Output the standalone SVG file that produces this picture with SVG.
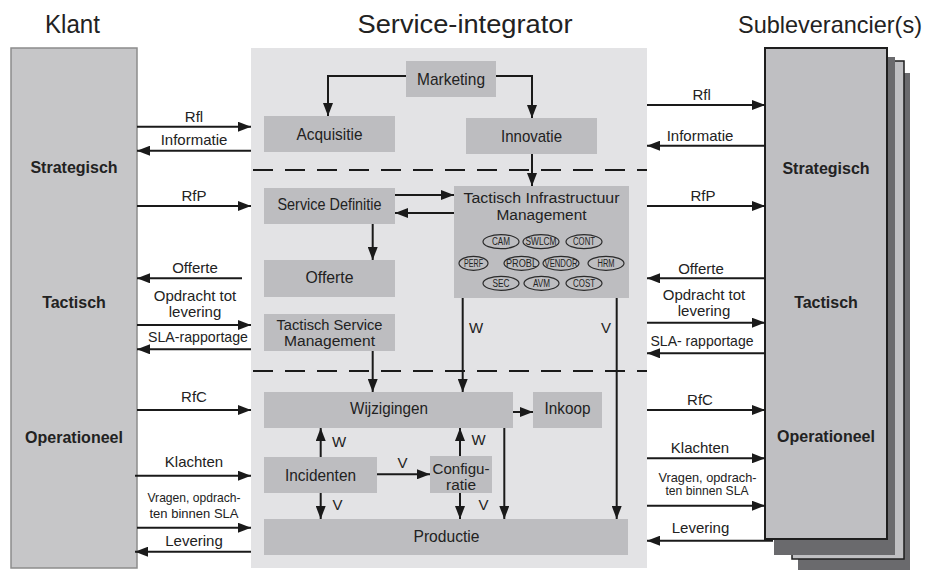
<svg xmlns="http://www.w3.org/2000/svg" width="932" height="570" viewBox="0 0 932 570">
  <defs>
    <marker id="ah" viewBox="0 0 13 10" refX="13" refY="5" markerWidth="13" markerHeight="10" markerUnits="userSpaceOnUse" orient="auto">
      <path d="M0,0 L13,5 L0,10 z" fill="#1a1a1a"/>
    </marker>
    <style>
      text { font-family: "Liberation Sans", Arial, sans-serif; fill: #222; text-anchor: middle; }
      .title { font-size: 25px; }
      .lvl { font-size: 16px; font-weight: bold; }
      .box { fill: #bdbdc0; }
      .bl { font-size: 17px; }
      .b2 { font-size: 15.5px; }
      .al { font-size: 15px; }
      .sm { font-size: 13px; }
      .el { fill: none; stroke: #2a2a2a; stroke-width: 1.2; }
      .et { font-size: 10px; }
      .c { fill: none; stroke: #1a1a1a; stroke-width: 2; marker-end: url(#ah); }
      .dash { fill: none; stroke: #1a1a1a; stroke-width: 2; stroke-dasharray: 20 12; }
    </style>
  </defs>

  <!-- column titles -->
  <text class="title" x="72.5" y="33" textLength="55" lengthAdjust="spacingAndGlyphs">Klant</text>
  <text class="title" x="465" y="33" textLength="215" lengthAdjust="spacingAndGlyphs">Service-integrator</text>
  <text class="title" x="830" y="33" style="font-size:24px" textLength="184" lengthAdjust="spacingAndGlyphs">Subleverancier(s)</text>

  <!-- client column -->
  <g id="klant">
    <rect x="11" y="48" width="126" height="520" fill="#c6c6c8" stroke="#8c8c8c" stroke-width="1.5"/>
    <text class="lvl" x="74" y="173">Strategisch</text>
    <text class="lvl" x="74" y="308">Tactisch</text>
    <text class="lvl" x="74" y="443">Operationeel</text>
  </g>

  <!-- integrator panel -->
  <g id="integrator">
    <rect x="251" y="48" width="396" height="520" fill="#e3e3e5"/>
    <path class="dash" d="M253,170 H647"/>
    <path class="dash" d="M253,371 H647"/>
  </g>

  <!-- stacked subcontractor sheets -->
  <g id="subleverancier">
    <rect x="798" y="73" width="112" height="500" fill="#6a6a6d"/>
    <rect x="792" y="61" width="112" height="498" fill="#bfbfc2" stroke="#1e1e1e" stroke-width="1.5"/>
    <rect x="774" y="57" width="121" height="498" fill="#6a6a6d"/>
    <rect x="765" y="48" width="122" height="491" fill="#bfbfc2" stroke="#1e1e1e" stroke-width="2"/>
    <text class="lvl" x="826" y="174">Strategisch</text>
    <text class="lvl" x="826" y="308">Tactisch</text>
    <text class="lvl" x="826" y="442">Operationeel</text>
  </g>

  <g id="marketing"><rect class="box" x="406" y="61" width="90" height="36"/><text class="bl" x="451" y="85" textLength="68" lengthAdjust="spacingAndGlyphs">Marketing</text></g>
  <g id="acquisitie"><rect class="box" x="264" y="116" width="131" height="36"/><text class="bl" x="329.5" y="140" textLength="66" lengthAdjust="spacingAndGlyphs">Acquisitie</text></g>
  <g id="innovatie"><rect class="box" x="466" y="118" width="131" height="36"/><text class="bl" x="531.5" y="142" textLength="61" lengthAdjust="spacingAndGlyphs">Innovatie</text></g>
  <g id="service-definitie"><rect class="box" x="264" y="188" width="131" height="36"/><text class="bl" x="329.5" y="210" textLength="104" lengthAdjust="spacingAndGlyphs">Service Definitie</text></g>
  <g id="offerte"><rect class="box" x="264" y="260" width="131" height="37"/><text class="bl" x="329.5" y="283" textLength="48" lengthAdjust="spacingAndGlyphs">Offerte</text></g>
  <g id="tactisch-service-management"><rect class="box" x="264" y="314" width="131" height="37"/><text class="b2" x="329.5" y="329.5" textLength="106" lengthAdjust="spacingAndGlyphs">Tactisch Service</text><text class="b2" x="329.5" y="346" textLength="91" lengthAdjust="spacingAndGlyphs">Management</text></g>

  <g id="tactisch-infrastructuur-management">
    <rect class="box" x="454" y="186" width="175" height="112"/>
    <text class="b2" x="541.5" y="203" textLength="156" lengthAdjust="spacingAndGlyphs">Tactisch Infrastructuur</text>
    <text class="b2" x="541.5" y="219.5" textLength="90" lengthAdjust="spacingAndGlyphs">Management</text>
    <ellipse class="el" cx="501" cy="241.7" rx="18" ry="7"/><text class="et" x="501" y="245.3" textLength="18" lengthAdjust="spacingAndGlyphs">CAM</text>
    <ellipse class="el" cx="541" cy="241.7" rx="18" ry="7"/><text class="et" x="541" y="245.3" textLength="31" lengthAdjust="spacingAndGlyphs">SWLCM</text>
    <ellipse class="el" cx="584" cy="241.7" rx="18" ry="7"/><text class="et" x="584" y="245.3" textLength="22" lengthAdjust="spacingAndGlyphs">CONT</text>
    <ellipse class="el" cx="473.5" cy="263.3" rx="14.5" ry="7"/><text class="et" x="473.5" y="266.9" textLength="19" lengthAdjust="spacingAndGlyphs">PERF</text>
    <ellipse class="el" cx="521.5" cy="263.3" rx="17.5" ry="7"/><text class="et" x="521.5" y="266.9" textLength="31" lengthAdjust="spacingAndGlyphs">PROBL</text>
    <ellipse class="el" cx="561" cy="263.3" rx="18" ry="7"/><text class="et" x="561" y="266.9" textLength="33" lengthAdjust="spacingAndGlyphs">VENDOR</text>
    <ellipse class="el" cx="606" cy="263.3" rx="18" ry="7"/><text class="et" x="606" y="266.9" textLength="17" lengthAdjust="spacingAndGlyphs">HRM</text>
    <ellipse class="el" cx="501" cy="283.3" rx="18" ry="7"/><text class="et" x="501" y="286.9" textLength="17" lengthAdjust="spacingAndGlyphs">SEC</text>
    <ellipse class="el" cx="541.5" cy="283.3" rx="17.5" ry="7"/><text class="et" x="541.5" y="286.9" textLength="17" lengthAdjust="spacingAndGlyphs">AVM</text>
    <ellipse class="el" cx="584" cy="283.3" rx="18" ry="7"/><text class="et" x="584" y="286.9" textLength="22" lengthAdjust="spacingAndGlyphs">COST</text>
  </g>

  <g id="wijzigingen"><rect class="box" x="264" y="392" width="249" height="36"/><text class="bl" x="389" y="414" textLength="78" lengthAdjust="spacingAndGlyphs">Wijzigingen</text></g>
  <g id="inkoop"><rect class="box" x="533" y="392" width="69" height="36"/><text class="bl" x="567.5" y="414" textLength="46" lengthAdjust="spacingAndGlyphs">Inkoop</text></g>
  <g id="incidenten"><rect class="box" x="264" y="457" width="113" height="36"/><text class="bl" x="320.5" y="481" textLength="71" lengthAdjust="spacingAndGlyphs">Incidenten</text></g>
  <g id="configuratie"><rect class="box" x="430" y="456" width="62" height="37"/><text class="b2" x="461" y="473.5" textLength="57" lengthAdjust="spacingAndGlyphs">Configu-</text><text class="b2" x="461" y="490" textLength="30" lengthAdjust="spacingAndGlyphs">ratie</text></g>
  <g id="productie"><rect class="box" x="264" y="519" width="364" height="36"/><text class="bl" x="446.5" y="542" textLength="66" lengthAdjust="spacingAndGlyphs">Productie</text></g>

  <!-- connectors -->
  <g id="connectors">
    <!-- client side -->
    <path class="c" d="M137,126.7 H251"/>
    <path class="c" d="M251,150.7 H137"/>
    <path class="c" d="M137,206 H251"/>
    <path class="c" d="M242,278.3 H137"/>
    <path class="c" d="M137,325 H251"/>
    <path class="c" d="M251,349.3 H137"/>
    <path class="c" d="M137,410 H251"/>
    <path class="c" d="M135,475.7 H251"/>
    <path class="c" d="M137,527.7 H251"/>
    <path class="c" d="M251,551.7 H135"/>
    <!-- subcontractor side -->
    <path class="c" d="M647,105 H765"/>
    <path class="c" d="M765,145.7 H647"/>
    <path class="c" d="M647,206 H765"/>
    <path class="c" d="M765,278.3 H647"/>
    <path class="c" d="M647,322.7 H765"/>
    <path class="c" d="M765,353.3 H647"/>
    <path class="c" d="M647,410 H765"/>
    <path class="c" d="M647,458.3 H765"/>
    <path class="c" d="M647,505.7 H765"/>
    <path class="c" d="M773,540.7 H647"/>
    <!-- inside the integrator -->
    <path class="c" d="M406,76 H328 V116"/>
    <path class="c" d="M496,76 H532 V118"/>
    <path class="c" d="M532,154 V186"/>
    <path class="c" d="M395,195 H454"/>
    <path class="c" d="M454,213 H395"/>
    <path class="c" d="M372.7,224 V260"/>
    <path class="c" d="M372.7,351 V392"/>
    <path class="c" d="M462.7,298 V392"/>
    <path class="c" d="M616.7,298 V519"/>
    <path class="c" d="M513,412 H533"/>
    <path class="c" d="M504.3,428 V519"/>
    <path class="c" d="M320.7,457 V428"/>
    <path class="c" d="M320.7,493 V519"/>
    <path class="c" d="M377,474.3 H430"/>
    <path class="c" d="M460,456 V428"/>
    <path class="c" d="M460,493 V519"/>
  </g>

  <!-- connector labels -->
  <g id="labels">
    <text class="al" x="194" y="121.7">Rfl</text>
    <text class="al" x="194" y="145">Informatie</text>
    <text class="al" x="194" y="200.7">RfP</text>
    <text class="al" x="195" y="273.3">Offerte</text>
    <text class="al" x="195" y="300.7">Opdracht tot</text>
    <text class="al" x="195" y="316.7">levering</text>
    <text class="al" x="198" y="342.3" textLength="100" lengthAdjust="spacingAndGlyphs">SLA-rapportage</text>
    <text class="al" x="194" y="402.3">RfC</text>
    <text class="al" x="194" y="466.7">Klachten</text>
    <text class="sm" x="194" y="501.7" textLength="93" lengthAdjust="spacingAndGlyphs">Vragen, opdrach-</text>
    <text class="sm" x="194" y="518.3" textLength="89" lengthAdjust="spacingAndGlyphs">ten binnen SLA</text>
    <text class="al" x="194" y="546">Levering</text>

    <text class="al" x="701.7" y="100">Rfl</text>
    <text class="al" x="700" y="141">Informatie</text>
    <text class="al" x="703" y="200.7">RfP</text>
    <text class="al" x="701" y="274">Offerte</text>
    <text class="al" x="704" y="300">Opdracht tot</text>
    <text class="al" x="704" y="315.7">levering</text>
    <text class="al" x="702" y="346" textLength="103" lengthAdjust="spacingAndGlyphs">SLA- rapportage</text>
    <text class="al" x="700" y="405">RfC</text>
    <text class="al" x="700" y="453.3">Klachten</text>
    <text class="sm" x="707.5" y="481.7" textLength="98" lengthAdjust="spacingAndGlyphs">Vragen, opdrach-</text>
    <text class="sm" x="707" y="495" textLength="83" lengthAdjust="spacingAndGlyphs">ten binnen SLA</text>
    <text class="al" x="700.5" y="533.3">Levering</text>

    <text class="al" x="476" y="333">W</text>
    <text class="al" x="606" y="333">V</text>
    <text class="al" x="339" y="446.7">W</text>
    <text class="al" x="478.5" y="445">W</text>
    <text class="al" x="402.5" y="468">V</text>
    <text class="al" x="337.5" y="510">V</text>
    <text class="al" x="483.5" y="510">V</text>
  </g>
</svg>
